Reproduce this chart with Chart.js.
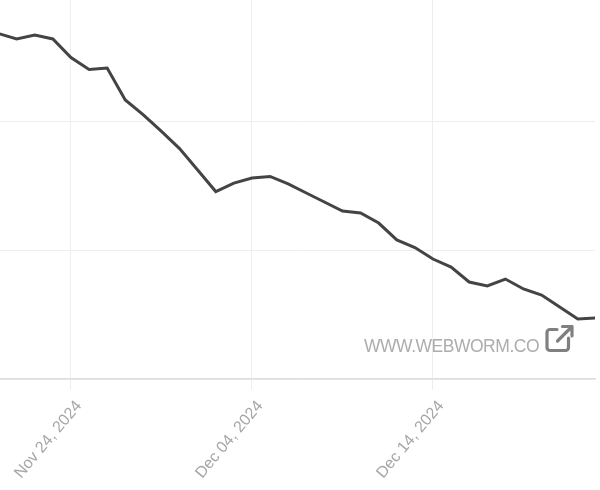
<!DOCTYPE html>
<html>
<head>
<meta charset="utf-8">
<script src="https://cdn.jsdelivr.net/npm/chart.js@4"></script>
<style>
html,body{margin:0;padding:0;background:#fff;}
#wrap{position:relative;width:600px;height:490px;overflow:hidden;}
#mark{position:absolute;left:364px;top:335px;font:17.5px "Liberation Sans",Arial,sans-serif;letter-spacing:-0.48px;color:#adadad;line-height:22px;white-space:nowrap;}
#icon{position:absolute;left:540px;top:320px;}
</style>
</head>
<body>
<div id="wrap">
<canvas id="c" width="600" height="490"></canvas>
<div id="mark">WWW.WEBWORM.CO</div>
<svg id="icon" width="40" height="40" viewBox="540 320 40 40" fill="none" stroke="#808080" stroke-width="3.2" stroke-linecap="round" stroke-linejoin="round">
<path d="M557 329.5H550a3 3 0 0 0-3 3V347.5a3 3 0 0 0 3 3H565.5a3 3 0 0 0 3-3V338"/>
<path d="M557.5 341L572 326.5M562.5 326.5H572V336"/>
</svg>
</div>
<script>
const dayLabels = ["Nov 20, 2024","Nov 21, 2024","Nov 22, 2024","Nov 23, 2024","Nov 24, 2024","Nov 25, 2024","Nov 26, 2024","Nov 27, 2024","Nov 28, 2024","Nov 29, 2024","Nov 30, 2024","Dec 01, 2024","Dec 02, 2024","Dec 03, 2024","Dec 04, 2024","Dec 05, 2024","Dec 06, 2024","Dec 07, 2024","Dec 08, 2024","Dec 09, 2024","Dec 10, 2024","Dec 11, 2024","Dec 12, 2024","Dec 13, 2024","Dec 14, 2024","Dec 15, 2024","Dec 16, 2024","Dec 17, 2024","Dec 18, 2024","Dec 19, 2024","Dec 20, 2024","Dec 21, 2024","Dec 22, 2024","Dec 23, 2024"];
const seriesValues = [267.8,263.6,266.7,263.6,249.2,239.9,241.1,216.3,204.7,192,178.6,162,145.3,151.9,155.8,157,151.2,144.2,137.2,130.2,128.7,120.9,107.8,101.9,93,86.8,75.2,72.1,77.5,69.8,65.1,55.8,46.5,47.3];
const xTickLabels = ["Nov 24, 2024","Dec 04, 2024","Dec 14, 2024"];
const yTickValues = [0,100,200];

new Chart(document.getElementById('c'), {
  type: 'line',
  data: {
    datasets: [{
      data: seriesValues.map((v,i)=>({x:i,y:v})),
      borderColor:'#444444',
      borderWidth:3,
      pointRadius:0,
      tension:0,
      fill:false
    }]
  },
  options: {
    responsive:false,
    animation:false,
    layout:{padding:{left:0,right:5,top:0,bottom:0}},
    plugins:{legend:{display:false},tooltip:{enabled:false}},
    scales:{
      x:{
        type:'linear',
        min:0.08,
        max:32.95,
        afterBuildTicks(s){ s.ticks = xTickLabels.map(l=>({value:dayLabels.indexOf(l)})); },
        afterFit(s){ s.height=111; s.paddingLeft=0; s.paddingRight=0; },
        border:{color:'#dddddd',width:1.5},
        grid:{color:'#eeeeee',lineWidth:1,tickLength:11,tickColor:'#eeeeee'},
        ticks:{
          color:'#a6a6a6',
          font:{family:'"Liberation Sans"',size:16},
          minRotation:50,maxRotation:50,
          autoSkip:false,
          labelOffset:8,
          padding:7,
          callback:(v)=>dayLabels[v]
        }
      },
      y:{
        min:0,
        max:293.8,
        afterBuildTicks(s){ s.ticks = yTickValues.map(v=>({value:v})); },
        border:{display:false},
        grid:{color:'#eeeeee',lineWidth:1,drawTicks:false},
        ticks:{display:false}
      }
    }
  }
});
</script>
</body>
</html>
